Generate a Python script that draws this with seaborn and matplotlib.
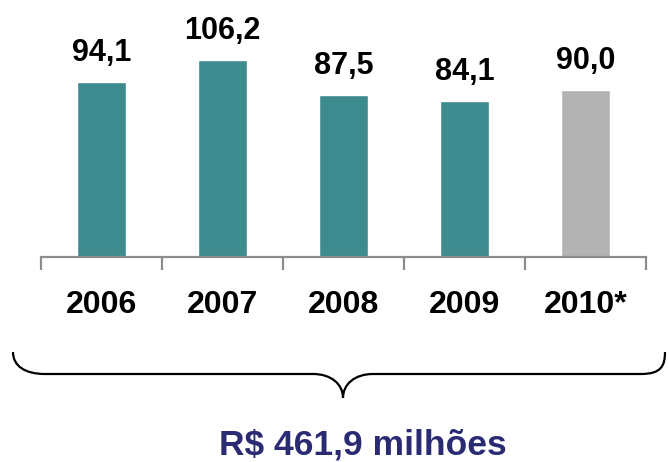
import matplotlib
matplotlib.use('Agg')
import matplotlib.pyplot as plt
from matplotlib.path import Path
from matplotlib.patches import PathPatch
import seaborn as sns
import pandas as pd

# data
years = ['2006', '2007', '2008', '2009', '2010*']
values = [94.1, 106.2, 87.5, 84.1, 90.0]
value_labels = ['94,1', '106,2', '87,5', '84,1', '90,0']
bar_colors = ['#3e8b8f', '#3e8b8f', '#3e8b8f', '#3e8b8f', '#b3b3b3']
total_label = 'R$ 461,9 milhões'

sns.set_style('white')
plt.rcParams['font.family'] = ['Liberation Sans', 'DejaVu Sans']

df = pd.DataFrame({'ano': years, 'valor': values})

W, H = 669, 462
fig = plt.figure(figsize=(W / 100, H / 100), dpi=100)
ax = fig.add_axes([41 / W, 1 - 257 / H, (646 - 41) / W, 257 / H])

sns.barplot(data=df, x='ano', y='valor', hue='ano', palette=bar_colors,
            legend=False, width=0.41, saturation=1, ax=ax)

ax.set_xlim(-0.5, len(years) - 0.5)
ax.set_ylim(0, 138.5)

# value labels above bars
for i, (v, lab) in enumerate(zip(values, value_labels)):
    ax.annotate(lab, (i, v), xytext=(0, 10), textcoords='offset points',
                ha='center', va='bottom', fontsize=22, fontweight='bold',
                color='black')

# axis look: only bottom line, ticks between categories
for s in ['top', 'left', 'right']:
    ax.spines[s].set_visible(False)
ax.spines['bottom'].set_color('#8c8c8c')
ax.spines['bottom'].set_linewidth(1.6)
ax.set_yticks([])
ax.set_xlabel('')
ax.set_ylabel('')
ax.set_xticks(range(len(years)))
ax.set_xticklabels(years, fontsize=23, fontweight='bold', color='black')
ax.set_xticks([i - 0.5 for i in range(len(years) + 1)], minor=True)
ax.tick_params(axis='x', which='major', length=0, pad=24)
ax.tick_params(axis='x', which='minor', length=9, width=1.6, color='#8c8c8c',
               direction='out', bottom=True)

# curly brace under the chart (pixel coords on an overlay)
ov = fig.add_axes([0, 0, 1, 1])
ov.set_xlim(0, W)
ov.set_ylim(H, 0)
ov.axis('off')
verts = [(13, 352), (13, 366), (25, 374), (45, 374),
         (313, 374),
         (331, 374), (343, 384), (343, 398),
         (343, 384), (355, 374), (373, 374),
         (641, 374),
         (661, 374), (665, 366), (665, 352)]
codes = [Path.MOVETO, Path.CURVE4, Path.CURVE4, Path.CURVE4,
         Path.LINETO,
         Path.CURVE4, Path.CURVE4, Path.CURVE4,
         Path.CURVE4, Path.CURVE4, Path.CURVE4,
         Path.LINETO,
         Path.CURVE4, Path.CURVE4, Path.CURVE4]
ov.add_patch(PathPatch(Path(verts, codes), facecolor='none',
                       edgecolor='black', linewidth=1.6))

ov.text(363, 454, total_label, ha='center', va='baseline', fontsize=25.5,
        fontweight='bold', color='#2a2b73')

fig.savefig('out.png', dpi=100)
